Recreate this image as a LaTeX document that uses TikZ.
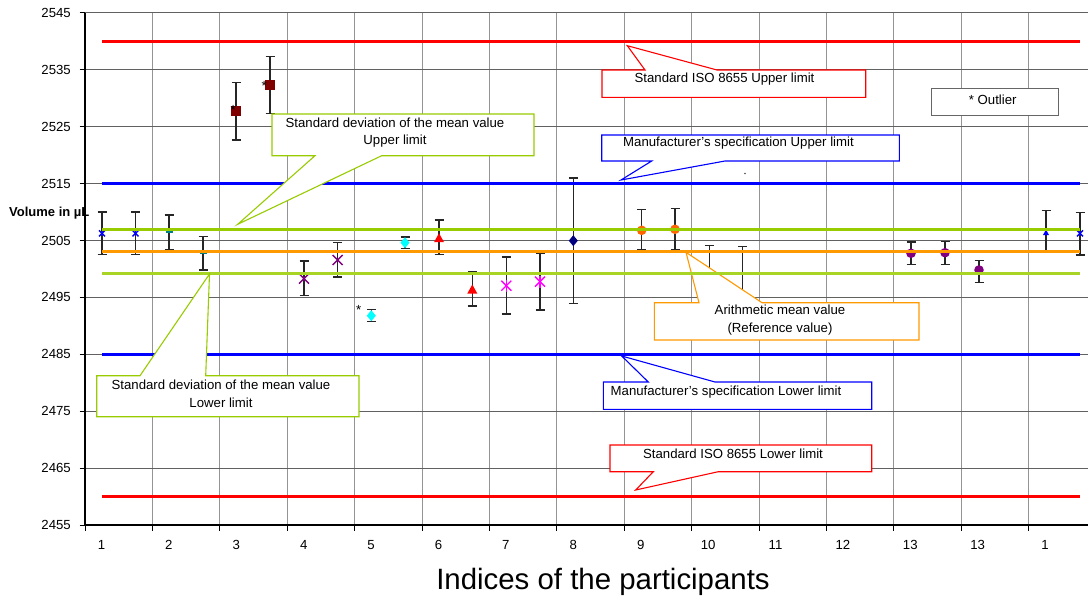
\documentclass[tikz,border=0pt]{standalone}
\usepackage{fontspec}
\setmainfont{Liberation Sans}
\definecolor{isored}{HTML}{FF0000}
\definecolor{manblue}{HTML}{0000FF}
\definecolor{sdgreen}{HTML}{99CC00}
\definecolor{meanorange}{HTML}{FF9900}
\definecolor{sqred}{HTML}{800000}
\definecolor{purp}{HTML}{800080}
\definecolor{navyb}{HTML}{000080}
\definecolor{circorange}{HTML}{FF6600}
\definecolor{tealm}{HTML}{008080}
\definecolor{cyanm}{HTML}{00FFFF}
\definecolor{magm}{HTML}{FF00FF}
\newcommand\EBar[3]{\draw[ebar] (#1-4.5,#2) -- (#1+4.5,#2) (#1,#2) -- (#1,#3) (#1-4.5,#3) -- (#1+4.5,#3);}
\newcommand\MkCross[4]{\draw[#4,line width=1.4pt] (#1-#3,#2-#3) -- (#1+#3,#2+#3) (#1-#3,#2+#3) -- (#1+#3,#2-#3);}
\newcommand\MkStar[3]{\MkCross{#1}{#2}{5}{#3}\draw[#3,line width=1.4pt] (#1,#2-6) -- (#1,#2+6);}
\newcommand\MkDash[3]{\draw[#3,line width=2pt] (#1-3.5,#2) -- (#1+3.5,#2);}
\newcommand\MkSq[3]{\fill[#3] (#1-4.7,#2-4.7) rectangle (#1+4.7,#2+4.7);}
\newcommand\MkDia[3]{\fill[#3] (#1-4.5,#2) -- (#1,#2-5.5) -- (#1+4.5,#2) -- (#1,#2+5.5) -- cycle;}
\newcommand\MkTri[4]{\fill[#4] (#1-#3,#2+#3*0.9) -- (#1+#3,#2+#3*0.9) -- (#1,#2-#3*0.9) -- cycle;}
\newcommand\MkDot[3]{\fill[#3] (#1,#2) circle[radius=4.8];}
\begin{document}
\begin{tikzpicture}[x=1pt,y=-1pt,
  every node/.style={font=\fontsize{13.2}{16}\selectfont, inner sep=0pt},
  hgrid/.style={black!62, line width=0.9pt},
  vgrid/.style={black!42, line width=0.9pt},
  axisline/.style={black, line width=1.4pt},
  limitline/.style={line width=3pt},
  ebar/.style={black!85, line width=1.3pt},
  callout/.style={fill=white, line width=1.1pt},
  twoline/.style={align=center, font=\fontsize{13.2}{18}\selectfont}]
\useasboundingbox (0,0) rectangle (1088,600);
\fill[white] (0,0) rectangle (1088,600);
% grid
\foreach \k in {1,...,14}{
  \draw[vgrid] (85+67.4*\k,12.9) -- (85+67.4*\k,525);
}
\foreach \v in {2465,2475,...,2545}{
  \pgfmathsetmacro\yy{525-(\v-2455)*5.69}
  \draw[hgrid] (85,\yy) -- (1088,\yy);
}
\foreach \v in {2455,2465,...,2545}{
  \pgfmathsetmacro\yy{525-(\v-2455)*5.69}
  \draw[black, line width=0.9pt] (79.5,\yy) -- (85,\yy);
  \node[anchor=east] (yl\v) at (71,\yy) {\v};
}
\foreach \k/\t in {0/1,1/2,2/3,3/4,4/5,5/6,6/7,7/8,8/9,9/10,10/11,11/12,12/13,13/13,14/1}{
  \draw[black, line width=0.9pt] (85+67.4*\k,525) -- (85+67.4*\k,531);
  \node (xl\k) at (101.5+67.4*\k,545) {\t};
}
\draw[axisline] (85,12.9) -- (85,525) -- (1088,525);
% error bars
\EBar{102}{212}{254.3}
\EBar{135.5}{212}{254.3}
\EBar{169}{215}{249.7}
\EBar{203}{236.3}{270}
\EBar{236}{82.7}{140}
\EBar{270}{56.7}{113.3}
\EBar{304}{261}{295.3}
\EBar{337.7}{242.7}{277}
\EBar{371.3}{309.7}{321.7}
\EBar{405}{237}{248.7}
\EBar{439}{220}{254.3}
\EBar{472.3}{271.7}{306}
\EBar{506.3}{257}{314}
\EBar{540}{253.7}{310}
\EBar{573.3}{178}{303.3}
\EBar{641.7}{209.3}{250}
\EBar{675}{208.3}{250}
\EBar{709.3}{245.3}{272}
\EBar{742.3}{246.3}{300}
\EBar{911}{242}{264.3}
\EBar{945}{241.3}{264.3}
\EBar{979}{260.7}{282.7}
\EBar{1046}{210.3}{252.3}
\EBar{1080}{212.3}{255}
% markers
\MkCross{102}{233.3}{3}{manblue}
\MkCross{135.5}{233.3}{3}{manblue}
\MkDash{169}{232.3}{tealm}
\MkDash{203}{253.3}{tealm}
\MkSq{236}{111}{sqred}
\MkSq{270}{85}{sqred}
\MkCross{304}{278.7}{5}{purp}
\MkCross{337.7}{260}{5}{purp}
\MkDia{371.3}{315.7}{cyanm}
\MkDia{405}{242.7}{cyanm}
\MkTri{439}{237.7}{5}{isored}
\MkTri{472.3}{289}{5}{isored}
\MkStar{506.3}{285.7}{magm}
\MkStar{540}{281.7}{magm}
\MkDia{573.3}{240.7}{navyb}
\MkDot{641.7}{230.3}{circorange}
\MkDot{675}{229.3}{circorange}
\MkDash{742.3}{274}{tealm!50}
\MkDot{911}{253.3}{purp}
\MkDot{945}{252.7}{purp}
\MkDot{979}{270}{purp}
\MkTri{1046}{232.3}{3}{manblue}
\MkCross{1080}{233.3}{3}{manblue}
% outlier asterisks
\node (as1) at (233.3,110) {*};
\node (as2) at (264.3,85.5) {*};
\node (as3) at (358.7,309.5) {*};
% orange callout (below limit lines)
\draw[callout, draw=meanorange] (654.3,302.7) -- (699,302.7) -- (686,252.3) -- (762,302.7) -- (919,302.7) -- (919,340) -- (654.3,340) -- cycle;
\node[twoline] (meantxt) at (780,320) {Arithmetic mean value\\(Reference value)};
% limit lines
\draw[limitline, isored] (102,41.3) -- (1080,41.3);
\draw[limitline, isored] (102,496.5) -- (1080,496.5);
\draw[limitline, manblue] (102,183.6) -- (1080,183.6);
\draw[limitline, manblue] (102,354.3) -- (1080,354.3);
\draw[limitline, sdgreen] (102,229.3) -- (1080,229.3);
\draw[limitline, sdgreen!85!white] (102,273.3) -- (1080,273.3);
\draw[limitline, meanorange] (102,251) -- (1080,251);
% callouts
\draw[callout, draw=isored] (602,70) -- (645,70) -- (627.3,45.7) -- (717,70) -- (865.7,70) -- (865.7,97.3) -- (602,97.3) -- cycle;
\node (isoup) at (724.5,79) {Standard ISO 8655 Upper limit};
\draw[callout, draw=manblue] (601.7,135) -- (899.3,135) -- (899.3,161) -- (725,161) -- (621,180) -- (651.7,161) -- (601.7,161) -- cycle;
\node (manup) at (738.5,143) {Manufacturer’s specification Upper limit};
\draw[callout, draw=sdgreen] (272,114) -- (534,114) -- (534,155.7) -- (381.7,155.7) -- (237.7,224.3) -- (315,155.7) -- (272,155.7) -- cycle;
\node[twoline, font=\fontsize{13.2}{17.5}\selectfont] (sdup) at (395,132.5) {Standard deviation of the mean value\\Upper limit};
\draw[callout, draw=sdgreen] (96.7,375.7) -- (140,375.7) -- (209.5,274) -- (205.7,375.7) -- (359,375.7) -- (359,416.7) -- (96.7,416.7) -- cycle;
\node[twoline] (sdlow) at (221,394) {Standard deviation of the mean value\\Lower limit};
\draw[callout, draw=manblue] (603.3,382) -- (648.3,382) -- (621.7,356) -- (715,382) -- (871.7,382) -- (871.7,409.3) -- (603.3,409.3) -- cycle;
\node (manlow) at (726,391.7) {Manufacturer’s specification Lower limit};
\draw[callout, draw=isored] (610,445) -- (871.7,445) -- (871.7,471.7) -- (718.3,471.7) -- (635.7,490) -- (653.3,471.7) -- (610,471.7) -- cycle;
\node (isolow) at (733,454) {Standard ISO 8655 Lower limit};
\draw[fill=white, draw=black!60, line width=0.9pt] (931.7,88.3) rectangle (1058.3,115);
\node (outl) at (992.7,99.3) {* Outlier};
\fill[black!70] (745,173.5) circle[radius=0.8];
% axis texts
\node[anchor=west, font=\bfseries\fontsize{13}{15}\selectfont] (ylab) at (9,213) {Volume in µL};
\node[font=\fontsize{29.4}{34}\selectfont] (xlab) at (603,582) {Indices of the participants};
\end{tikzpicture}
\end{document}
